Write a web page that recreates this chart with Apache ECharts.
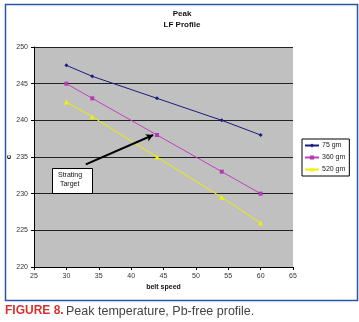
<!DOCTYPE html>
<html><head><meta charset="utf-8">
<script src="https://cdn.jsdelivr.net/npm/echarts@6/dist/echarts.min.js"></script>
<style>html,body{margin:0;padding:0;background:#fff}#c{width:359px;height:322px}</style>
</head><body><div id="c"></div>
<script>
const speeds = [30, 34, 44, 54, 60];
const s75 = [247.5, 246, 243, 240, 238];
const s360 = [245, 243, 238, 233, 230];
const s520 = [242.5, 240.5, 235, 229.5, 226];
const seriesNames = ['75 gm', '360 gm', '520 gm'];
const arrowFrom = [33, 234];
const arrowTo = [43.4, 238];

const chart = echarts.init(document.getElementById('c'));
const font = 'Liberation Sans, Arial, sans-serif';
function pts(v){ return speeds.map((x,i)=>[x,v[i]]); }
chart.setOption({
  animation:false,
  backgroundColor:'#fff',
  title:{text:'Peak\nLF Profile', left:177, textAlign:'center', top:3,
    textStyle:{fontFamily:font, fontSize:8, fontWeight:'bold', color:'#111', lineHeight:11}},
  grid:{left:34, right:66, top:47, bottom:55, show:true, backgroundColor:'#c0c0c0', borderWidth:0,
    containLabel:false, outerBoundsMode:'none'},
  legend:{orient:'vertical', left:302, top:139, itemWidth:14, itemHeight:5, itemGap:5,
    padding:[3,4,3,2], borderColor:'#000', borderWidth:1, backgroundColor:'#fff',
    textStyle:{fontFamily:font, fontSize:7, color:'#222', padding:[0,0,0,-2]}, data:seriesNames},
  xAxis:{type:'value', min:25, max:65, interval:5, name:'belt speed', nameLocation:'middle', nameGap:17,
    nameMoveOverlap:false,
    nameTextStyle:{fontFamily:font, fontSize:7, fontWeight:'bold', color:'#111'},
    axisLine:{onZero:false, lineStyle:{color:'#000', width:1}},
    axisTick:{show:true, length:3, lineStyle:{color:'#000'}},
    axisLabel:{fontFamily:font, fontSize:7, color:'#333', margin:6},
    splitLine:{show:false}},
  yAxis:{type:'value', min:220, max:250, interval:5, name:'c', nameLocation:'middle', nameGap:21,
    nameMoveOverlap:false,
    nameTextStyle:{fontFamily:font, fontSize:8, fontWeight:'bold', color:'#111'},
    axisLine:{show:true, onZero:false, lineStyle:{color:'#000', width:1}},
    axisTick:{show:true, length:3, lineStyle:{color:'#000'}},
    axisLabel:{fontFamily:font, fontSize:7, color:'#333', margin:6},
    splitLine:{show:true, lineStyle:{color:'#222', width:1}}},
  series:[
    {name:seriesNames[0], type:'line', data:pts(s75), symbol:'diamond', symbolSize:4,
      lineStyle:{color:'#1a1a80', width:1}, itemStyle:{color:'#1a1a80'}},
    {name:seriesNames[1], type:'line', data:pts(s360), symbol:'rect', symbolSize:4,
      lineStyle:{color:'#c040c0', width:1}, itemStyle:{color:'#b03cb0'},
      markLine:{silent:true, symbol:['none','arrow'], symbolSize:[6,7], label:{show:false},
        lineStyle:{color:'#000', width:2, type:'solid'},
        data:[[{coord:arrowFrom},{coord:arrowTo}]]}},
    {name:seriesNames[2], type:'line', data:pts(s520), symbol:'triangle', symbolSize:5,
      lineStyle:{color:'#f0f000', width:1}, itemStyle:{color:'#f0f000'}}
  ],
  graphic:[
    {type:'rect', left:3, top:2, shape:{width:352, height:296}, style:{fill:'none', stroke:'#2a55a8', lineWidth:1.5}, silent:true},
    {type:'rect', left:52, top:168, shape:{width:40, height:25}, style:{fill:'#fff', stroke:'#000', lineWidth:1}, z:10},
    {type:'text', left:58, top:171, z:11, style:{text:'Strating\n Target', font:'7px '+font, fill:'#111', lineHeight:9}},
    {type:'text', left:5, top:305, style:{text:'FIGURE 8.', font:'bold 12px '+font, fill:'#d6332e'}},
    {type:'text', left:66, top:305, style:{text:'Peak temperature, Pb-free profile.', font:'12.5px '+font, fill:'#444'}}
  ]
});
</script></body></html>
